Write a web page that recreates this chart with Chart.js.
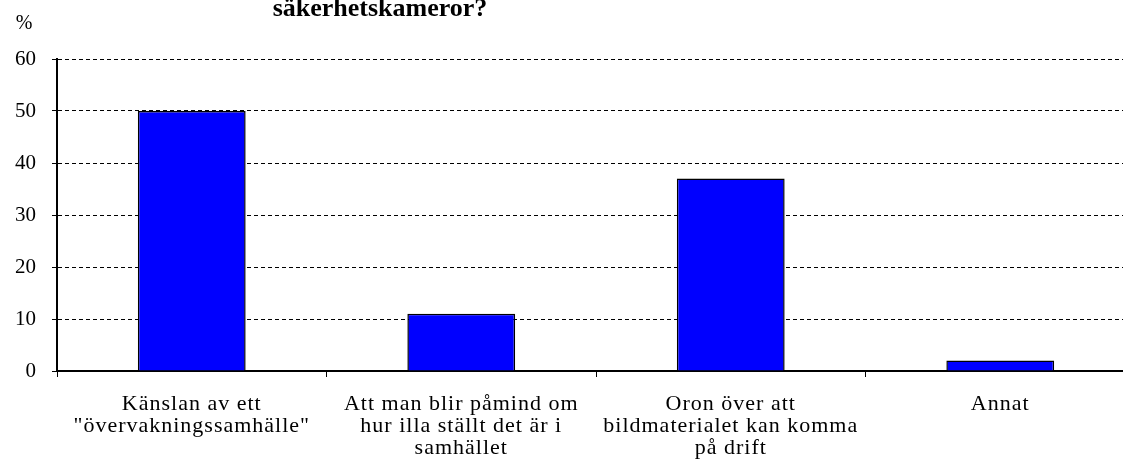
<!DOCTYPE html>
<html lang="sv">
<head>
  <meta charset="utf-8"/>
  <title>Säkerhetskameror</title>
  <script src="https://cdn.jsdelivr.net/npm/chart.js@4/dist/chart.umd.min.js"></script>
  <style>
    html, body { margin: 0; padding: 0; background: #fff; overflow: hidden; }
    #wrap { width: 1135px; height: 474px; }
  </style>
</head>
<body>
  <div id="wrap"><canvas id="chart"></canvas></div>
  <script>
    // data
    const categories = [
      ['Känslan av ett', '"övervakningssamhälle"'],
      ['Att man blir påmind om', 'hur illa ställt det är i', 'samhället'],
      ['Oron över att', 'bildmaterialet kan komma', 'på drift'],
      ['Annat']
    ];
    const values = [50, 11, 37, 2];
    const titleText = 'säkerhetskameror?';
    const unitText = '%';

    const serif = '"Liberation Serif", "DejaVu Serif", serif';

    // title (its first line is above the top edge) and the % unit
    const textPlugin = {
      id: 'texts',
      afterUpdate(chart) {
        // the category labels are a bit spread out in the original
        const s = chart.scales.x;
        if (s && !s._spaced) {
          const orig = s.drawLabels.bind(s);
          s.drawLabels = function (area) {
            const ctx = chart.ctx;
            ctx.save();
            ctx.letterSpacing = '1px';
            orig(area);
            ctx.restore();
          };
          s._spaced = true;
        }
      },
      afterDraw(chart) {
        const ctx = chart.ctx;
        ctx.save();
        ctx.fillStyle = '#000';
        ctx.textAlign = 'center';
        ctx.textBaseline = 'alphabetic';
        ctx.font = 'bold 26px ' + serif;
        ctx.fillText(titleText, 380, 16);
        ctx.font = '20px ' + serif;
        ctx.fillText(unitText, 24, 29);
        ctx.restore();
      }
    };

    new Chart(document.getElementById('chart'), {
      type: 'bar',
      data: {
        labels: categories,
        datasets: [{
          data: values,
          backgroundColor: '#0000FF',
          borderColor: '#000',
          borderWidth: 1.5,
          categoryPercentage: 1,
          barPercentage: 0.4
        }]
      },
      options: {
        responsive: true,
        maintainAspectRatio: false,
        animation: false,
        layout: { padding: { top: 59, left: 0, right: 0, bottom: 0 } },
        plugins: { legend: { display: false }, tooltip: { enabled: false } },
        scales: {
          x: {
            afterFit: s => { s.height = 103; },
            grid: {
              offset: true,
              drawOnChartArea: false,
              drawTicks: true,
              tickLength: 6,
              color: '#000',
              lineWidth: 1
            },
            border: { display: true, color: '#000', width: 2 },
            ticks: {
              color: '#000',
              font: { family: serif, size: 22, lineHeight: 1 },
              padding: 16,
              maxRotation: 0,
              autoSkip: false
            }
          },
          y: {
            min: 0,
            max: 60,
            afterFit: s => { s.width = 57; },
            grid: {
              color: '#000',
              lineWidth: 1,
              tickBorderDash: [],
              tickLength: 5,
              tickColor: '#000'
            },
            border: { display: true, color: '#000', width: 2, dash: [4, 3] },
            ticks: {
              stepSize: 10,
              color: '#000',
              font: { family: serif, size: 21 },
              padding: 16
            }
          }
        }
      },
      plugins: [textPlugin]
    });
  </script>
</body>
</html>
